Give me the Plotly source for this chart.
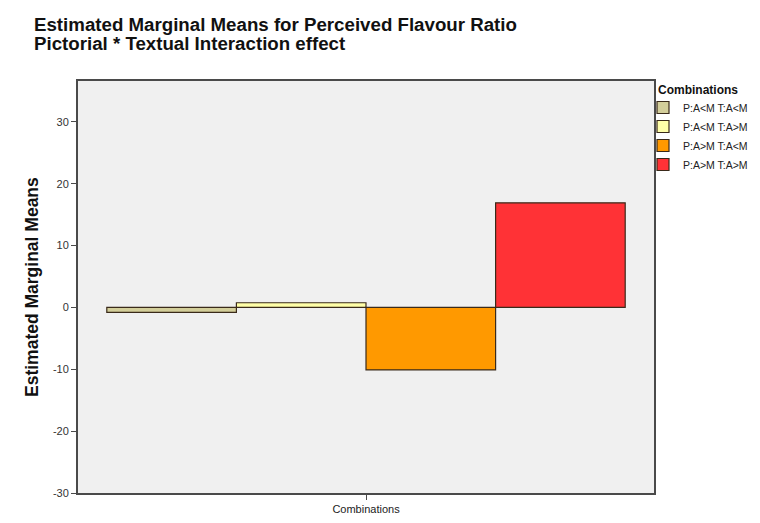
import plotly.graph_objects as go

categories = ["Combinations"]
series_names = ["P:A<M T:A<M", "P:A<M T:A>M", "P:A>M T:A<M", "P:A>M T:A>M"]
series_values = [-0.8, 0.75, -10.1, 16.9]
series_colors = ["#D3CE9A", "#FFFFA8", "#FF9900", "#FF3236"]
y_ticks = [-30, -20, -10, 0, 10, 20, 30]
y_ticktext = ["-30", "-20", "-10", "0", "10", "20", "30"]
title_lines = ["Estimated Marginal Means for Perceived Flavour Ratio",
               "Pictorial * Textual Interaction effect"]
legend_title = "Combinations"

fig = go.Figure()
for name, val, col in zip(series_names, series_values, series_colors):
    fig.add_trace(go.Bar(
        x=categories, y=[val], name=name,
        marker=dict(color=col, line=dict(color="#3a2a1a", width=1.2)),
    ))

W, H = 760, 523
L, R, T, B = 78, 106, 81, 30
pw = W - L - R
ph = H - T - B

FONT = "Liberation Sans, Arial, sans-serif"

annots = []
for i, line in enumerate(title_lines):
    annots.append(dict(
        text="<b>" + line + "</b>",
        xref="paper", yref="paper",
        x=(32 - L) / pw, xanchor="left",
        y=1 + (T - (12 + 19 * i)) / ph, yanchor="top",
        showarrow=False,
        font=dict(size=18.7, color="#111", family=FONT),
    ))
annots.append(dict(
    text="<b>Estimated Marginal Means</b>",
    xref="paper", yref="paper",
    x=(32 - L) / pw, y=0.5,
    xanchor="center", yanchor="middle",
    textangle=-90, showarrow=False,
    font=dict(size=17.5, color="#111", family=FONT),
))
annots.append(dict(
    text="<b>" + legend_title + "</b>",
    xref="paper", yref="paper",
    x=(656 - L) / pw, xanchor="left",
    y=1 + (T - 90) / ph, yanchor="middle",
    showarrow=False,
    font=dict(size=12, color="#111", family=FONT),
))

fig.update_layout(
    width=W, height=H,
    margin=dict(l=L, r=R, t=T, b=B, autoexpand=False),
    paper_bgcolor="white",
    plot_bgcolor="#F0F0F0",
    barmode="group",
    bargap=0.1,
    bargroupgap=0,
    font=dict(family=FONT, size=11, color="#222"),
    showlegend=True,
    legend=dict(
        xref="container", yref="container",
        x=643 / W, xanchor="left",
        y=1 - 93 / H, yanchor="top",
        font=dict(size=10.5, color="#222"),
        bgcolor="rgba(0,0,0,0)",
        tracegroupgap=0,
        itemwidth=30,
    ),
    xaxis=dict(
        showline=True, linecolor="#4a4a4a", linewidth=2, mirror=True,
        ticks="outside", ticklen=5, tickcolor="#4a4a4a",
        showgrid=False, zeroline=False, automargin=False,
        tickfont=dict(size=11, color="#222"),
    ),
    yaxis=dict(
        range=[-30, 36.6],
        tickvals=y_ticks, ticktext=y_ticktext,
        showline=True, linecolor="#4a4a4a", linewidth=2, mirror=True,
        ticks="outside", ticklen=5, tickcolor="#4a4a4a",
        showgrid=False, zeroline=False, automargin=False,
        tickfont=dict(size=11, color="#333"),
    ),
    annotations=annots,
)

fig.write_html(
    "out.html",
    config={"displayModeBar": False},
    post_script="document.body.style.margin='0';document.body.style.padding='0';",
)
